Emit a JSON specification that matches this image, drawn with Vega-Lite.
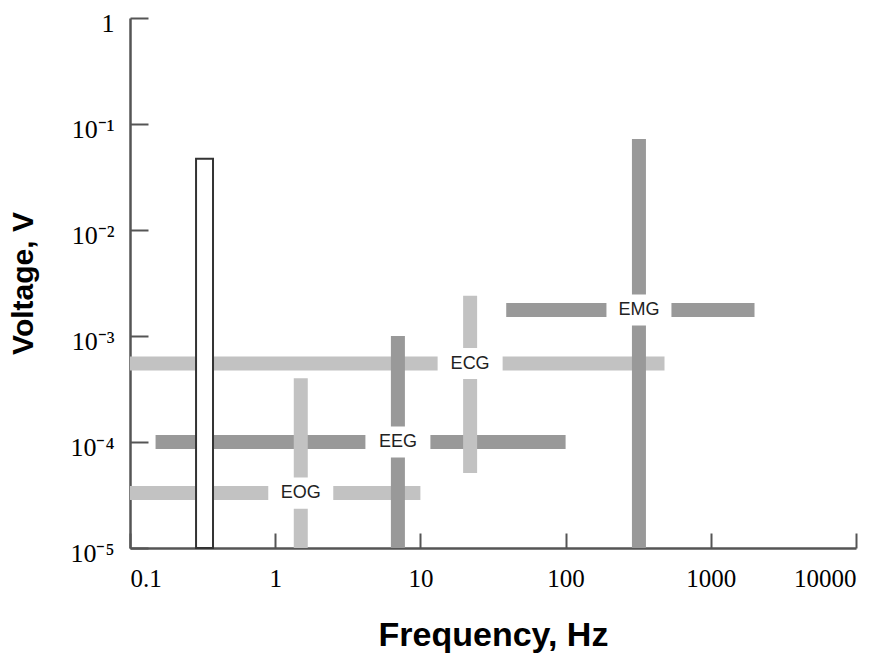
{
  "$schema": "https://vega.github.io/schema/vega-lite/v6.json",
  "width": 726,
  "height": 530,
  "autosize": {"type": "none"},
  "padding": {"left": 130, "top": 18, "right": 35, "bottom": 109},
  "background": "white",
  "config": {"view": {"stroke": null}},
  "datasets": {
    "signals": [
      {"signal": "EOG", "fLow": 0.1, "fHigh": 10, "vTyp": 3.3e-5, "fTyp": 1.5, "vLow": 1e-5, "vHigh": 4e-4},
      {"signal": "EEG", "fLow": 0.15, "fHigh": 100, "vTyp": 1e-4, "fTyp": 7, "vLow": 1e-5, "vHigh": 1e-3},
      {"signal": "ECG", "fLow": 0.1, "fHigh": 480, "vTyp": 5.5e-4, "fTyp": 22, "vLow": 5.1e-5, "vHigh": 2.4e-3},
      {"signal": "EMG", "fLow": 39, "fHigh": 2000, "vTyp": 1.76e-3, "fTyp": 320, "vLow": 1e-5, "vHigh": 0.072}
    ],
    "band": [{"fLow": 0.285, "fHigh": 0.373, "vLow": 1e-5, "vHigh": 0.047}]
  },
  "layer": [
    {
      "data": {"name": "signals"},
      "mark": {"type": "rule", "strokeWidth": 14, "strokeCap": "butt"},
      "encoding": {
        "x": {
          "field": "fLow", "type": "quantitative", "title": "Frequency, Hz",
          "scale": {"type": "log", "domain": [0.1, 10000], "nice": false},
          "axis": {
            "values": [0.1, 1, 10, 100, 1000, 10000],
            "labelExpr": "datum.value < 1 ? '0.1' : format(datum.value, 'd')",
            "labelFont": "Liberation Serif", "labelFontSize": 25, "labelColor": "black",
            "labelFlush": true, "labelPadding": 33,
            "tickSize": -15, "tickColor": "#555", "tickWidth": 2,
            "domainColor": "#555", "domainWidth": 2.5, "grid": false,
            "titleFont": "Liberation Sans", "titleFontSize": 34, "titleFontWeight": "bold",
            "titleColor": "black", "titlePadding": 27
          }
        },
        "x2": {"field": "fHigh"},
        "y": {
          "field": "vTyp", "type": "quantitative", "title": "Voltage, V",
          "scale": {"type": "log", "domain": [1e-5, 1], "nice": false},
          "axis": {
            "values": [1e-5, 1e-4, 1e-3, 1e-2, 1e-1, 1],
            "labelExpr": "datum.value >= 1 ? '1' : '10⁻' + ['⁰','¹','²','³','⁴','⁵'][round(-log(datum.value)/LN10)]",
            "labelFont": "Liberation Serif", "labelFontSize": 26, "labelColor": "black",
            "labelPadding": 34, "labelOffset": 5, "labelFlush": false,
            "tickSize": -18, "tickColor": "#555", "tickWidth": 2,
            "domainColor": "#555", "domainWidth": 2.5, "grid": false,
            "titleFont": "Liberation Sans", "titleFontSize": 30, "titleFontWeight": "bold",
            "titleColor": "black", "titlePadding": 31
          }
        },
        "color": {
          "field": "signal", "type": "nominal", "legend": null,
          "scale": {"domain": ["EOG", "EEG", "ECG", "EMG"], "range": ["#c2c2c2", "#999999", "#c2c2c2", "#999999"]}
        }
      }
    },
    {
      "data": {"name": "signals"},
      "mark": {"type": "rule", "strokeWidth": 14, "strokeCap": "butt"},
      "encoding": {
        "x": {"field": "fTyp", "type": "quantitative", "title": "Frequency, Hz"},
        "y": {"field": "vLow", "type": "quantitative", "title": "Voltage, V"},
        "y2": {"field": "vHigh"},
        "color": {
          "field": "signal", "type": "nominal", "legend": null,
          "scale": {"domain": ["EOG", "EEG", "ECG", "EMG"], "range": ["#c2c2c2", "#999999", "#c2c2c2", "#999999"]}
        }
      }
    },
    {
      "data": {"name": "signals"},
      "mark": {"type": "point", "shape": "M-1,-0.48H1V0.48H-1Z", "filled": true, "color": "white", "opacity": 1, "size": 4225},
      "encoding": {
        "x": {"field": "fTyp", "type": "quantitative", "title": "Frequency, Hz"},
        "y": {"field": "vTyp", "type": "quantitative", "title": "Voltage, V"}
      }
    },
    {
      "data": {"name": "signals"},
      "mark": {"type": "text", "font": "Liberation Sans", "fontSize": 18, "color": "#222222", "align": "center", "baseline": "middle"},
      "encoding": {
        "x": {"field": "fTyp", "type": "quantitative", "title": "Frequency, Hz"},
        "y": {"field": "vTyp", "type": "quantitative", "title": "Voltage, V"},
        "text": {"field": "signal"}
      }
    },
    {
      "data": {"name": "band"},
      "mark": {"type": "rect", "fill": "white", "stroke": "#333333", "strokeWidth": 2},
      "encoding": {
        "x": {"field": "fLow", "type": "quantitative", "title": "Frequency, Hz"},
        "x2": {"field": "fHigh"},
        "y": {"field": "vLow", "type": "quantitative", "title": "Voltage, V"},
        "y2": {"field": "vHigh"}
      }
    }
  ]
}
